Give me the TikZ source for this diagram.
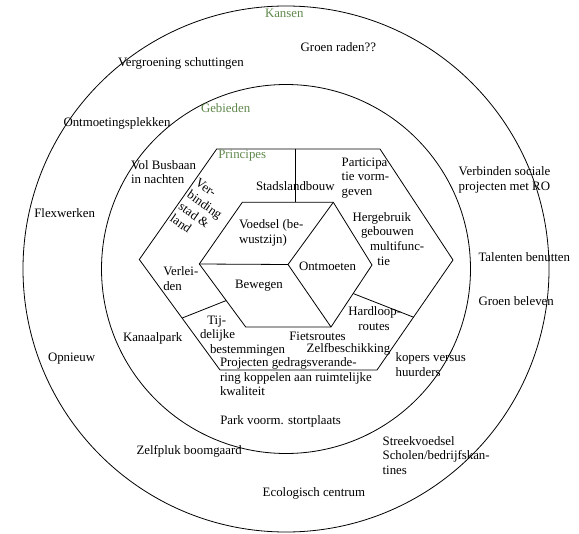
\documentclass[tikz,border=0pt]{standalone}
\usepackage{fontspec}
\setmainfont{Liberation Serif}
\usetikzlibrary{calc}
\definecolor{kgreen}{RGB}{95,135,75}
\tikzset{
  lbl/.style={inner sep=0pt, outer sep=0pt, font=\fontsize{12.9}{14.7}\selectfont, align=left, anchor=west},
  mlbl/.style={lbl, anchor=north west},
  grn/.style={lbl, text=kgreen},
  ln/.style={line width=0.8bp, black, line join=miter}
}
\begin{document}
\begin{tikzpicture}[x=1bp, y=-1bp]
\useasboundingbox (0,0) rectangle (579,534);
% circles
\draw[ln] (286,269) circle[radius=263];
\draw[ln] (286,269) circle[radius=184.5];
% big hexagon
\coordinate (H1) at (216.7,149);
\coordinate (H2) at (380,149);
\coordinate (H3) at (453,260);
\coordinate (H4) at (377,370);
\coordinate (H5) at (220,370);
\coordinate (H6) at (139.3,259.5);
\draw[ln] (H1) -- (H2) -- (H3) -- (H4) -- (H5) -- (H6) -- cycle;
% cube
\coordinate (C1) at (242.3,202.3);
\coordinate (C2) at (333.3,202.3);
\coordinate (C3) at (372,265);
\coordinate (C4) at (331,327);
\coordinate (C5) at (245.7,327);
\coordinate (C6) at (199.3,264);
\coordinate (Cc) at (288,264.5);
\draw[ln] (C1) -- (C2) -- (C3) -- (C4) -- (C5) -- (C6) -- cycle;
\draw[ln] (C6) -- (Cc) -- (C2);
\draw[ln] (Cc) -- (C4);
% dividers
\coordinate (T1) at (295.7,149);
\coordinate (T2) at (295.7,202.3);
\draw[ln] (T1) -- (T2);
\coordinate (L1) at ($(H6)!0.53!(H5)$);
\coordinate (L2) at ($(C6)!0.58!(C5)$);
\draw[ln] (L1) -- (L2);
\coordinate (R1) at ($(C3)!0.46!(C4)$);
\coordinate (R2) at ($(H3)!0.52!(H4)$);
\draw[ln] (R1) -- (R2);
% headings
\node[grn] (kansen) at (265,13.3) {Kansen};
\node[grn] (gebieden) at (201,108.5) {Gebieden};
\node[grn] (principes) at (218.3,156) {Principes};
% outer ring
\node[lbl] (groenraden) at (300.7,47) {Groen raden??};
\node[lbl] (vergroening) at (118,63.5) {Vergroening schuttingen};
\node[lbl] (ontmoetingsplekken) at (63.5,123.3) {Ontmoetingsplekken};
\node[lbl] (flexwerken) at (34.3,213.2) {Flexwerken};
\node[lbl] (opnieuw) at (48,359) {Opnieuw};
\node[lbl] (zelfpluk) at (136.5,451.6) {Zelfpluk boomgaard};
\node[lbl] (ecologisch) at (262.7,493.4) {Ecologisch centrum};
\node[lbl] (talenten) at (478.5,257.2) {Talenten benutten};
\node[lbl] (groenbeleven) at (478.5,301) {Groen beleven};
\node[mlbl] (verbinden) at (458.7,166.5) {Verbinden sociale\\projecten met RO};
\node[mlbl] (kopers) at (395.6,352.6) {kopers versus\\huurders};
\node[mlbl] (streek) at (382.6,436.4) {Streekvoedsel\\Scholen/bedrijfskan-\\tines};
% inner ring
\node[mlbl] (busbaan) at (131,160.4) {Vol Busbaan\\in nachten};
\node[lbl] (kanaalpark) at (123,338.5) {Kanaalpark};
\node[lbl] (park) at (220.3,421.7) {Park voorm. stortplaats};
% hexagon
\node[lbl] (stadslandbouw) at (256,185.7) {Stadslandbouw};
\node[mlbl] (participatie) at (341.7,157.7) {Participa\\tie vorm-\\geven};
\node[mlbl] (hergebruik) at (352.7,212.3) {Hergebruik\\\hspace*{8.3bp}gebouwen\\\hspace*{17.3bp}multifunc-\\\hspace*{24.6bp}tie};
\node[mlbl, rotate=-35] (verbinding) at (199.5,178) {Ver-\\binding\\stad \&\\land};
\node[mlbl] (verleiden) at (163.3,266.7) {Verlei-\\den};
\node[mlbl] (tijdelijke) at (200,315.7) {\hspace*{7.3bp}Tij-\\delijke\\\hspace*{10bp}bestemmingen};
\node[mlbl] (hardloop) at (348.3,306.7) {Hardloop-\\\hspace*{10bp}routes};
\node[lbl] (fietsroutes) at (289.3,336) {Fietsroutes};
\node[lbl] (zelfbeschikking) at (306.7,349.3) {Zelfbeschikking};
\node[mlbl] (projecten) at (220,357.5) {Projecten gedragsverande-\\ring koppelen aan ruimtelijke\\kwaliteit};
% cube
\node[mlbl] (voedsel) at (239,220) {Voedsel (be-\\wustzijn)};
\node[lbl] (ontmoeten) at (299,266) {Ontmoeten};
\node[lbl] (bewegen) at (235,286) {Bewegen};
\end{tikzpicture}
\end{document}
